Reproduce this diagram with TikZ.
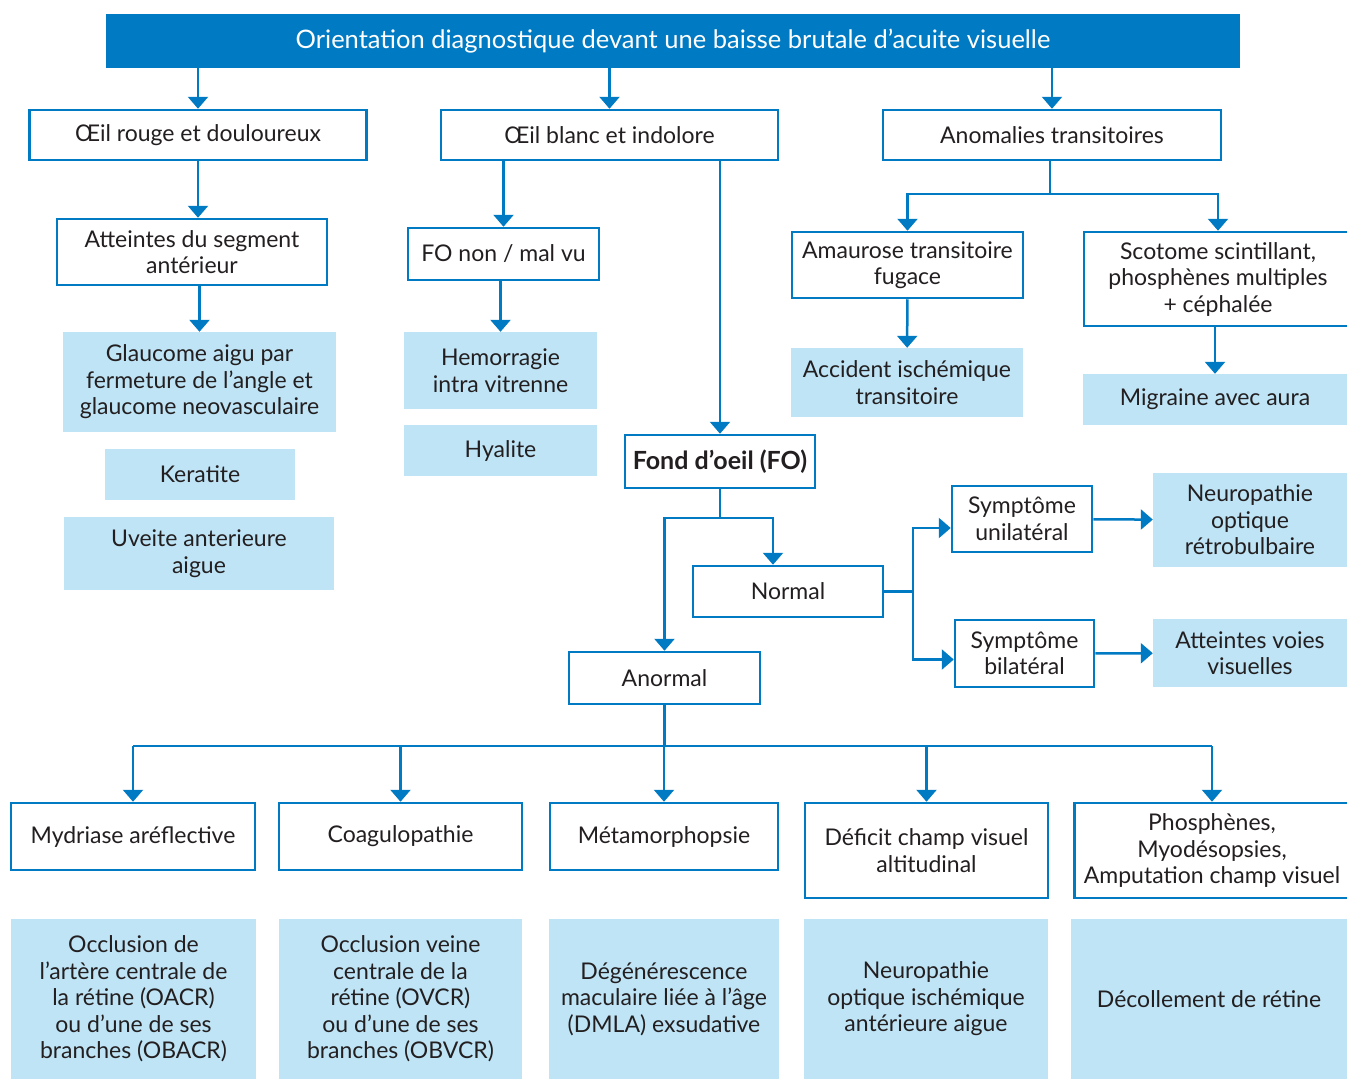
\documentclass[tikz,border=0pt]{standalone}
\usepackage{fontspec}
\setmainfont{Lato}
\usetikzlibrary{arrows.meta}
\definecolor{oblue}{RGB}{0,122,194}
\definecolor{lblue}{RGB}{190,228,246}
\definecolor{ink}{RGB}{35,31,32}

\begin{document}
\begin{tikzpicture}[x=1pt,y=-1pt,
  every node/.style={font=\fontsize{23}{26.5}\selectfont, text=ink, align=center, inner sep=0pt},
  wh/.style 2 args={minimum width=#1pt, minimum height=#2pt},
  outbox/.style={draw=oblue, line width=2.5pt, fill=white},
  fillbox/.style={fill=lblue},
  link/.style={draw=oblue, line width=2.5pt},
  arr/.style={link, -{Triangle[width=20pt,length=12pt]}}]
\useasboundingbox (0,0) rectangle (1347,1079);
% title bar
\node[fill=oblue, text=white, wh={1134}{54}, font=\fontsize{25.5}{28}\selectfont] (title) at (673,41)
  {Orientation diagnostique devant une baisse brutale d’acuite visuelle};
% first level
\node[outbox, wh={337}{50}] (rouge) at (198,135) {Œil rouge et douloureux};
\node[outbox, wh={337}{50}] (blanc) at (609.5,135) {Œil blanc et indolore};
\node[outbox, wh={338}{50}] (anom) at (1052,135) {Anomalies transitoires};
% red eye column
\node[outbox, wh={270}{66}] (segment) at (192,252) {Atteintes du segment\\antérieur};
\node[fillbox, wh={273}{100}] (glaucome) at (199.5,382) {Glaucome aigu par\\fermeture de l’angle et\\glaucome neovasculaire};
\node[fillbox, wh={190}{51}] (keratite) at (200,474.5) {Keratite};
\node[fillbox, wh={270}{73}] (uveite) at (199,553.5) {Uveite anterieure\\aigue};
% white eye column
\node[outbox, wh={191}{52}] (fonon) at (503.5,254) {FO non / mal vu};
\node[fillbox, wh={193}{77}] (hemo) at (500.5,370.5) {Hemorragie\\intra vitrenne};
\node[fillbox, wh={193}{51}] (hyalite) at (500.5,450.5) {Hyalite};
\node[outbox, wh={190}{53}, font=\fontsize{25}{27}\selectfont\bfseries] (fond) at (720,461.5) {Fond d’oeil (FO)};
\node[outbox, wh={190}{51}] (normal) at (788,591.5) {Normal};
\node[outbox, wh={191}{52}] (anormal) at (664.5,678) {Anormal};
\node[outbox, wh={140}{66}] (uni) at (1022,519) {Symptôme\\unilatéral};
\node[outbox, wh={139}{67}] (bil) at (1024.5,653.5) {Symptôme\\bilatéral};
\node[fillbox, wh={194}{94}] (neuro) at (1250,520) {Neuropathie\\optique\\rétrobulbaire};
\node[fillbox, wh={194}{68}] (voies) at (1250,653) {Atteintes voies\\visuelles};
% transient column
\node[outbox, wh={231}{66}] (amau) at (907.5,265) {Amaurose transitoire\\fugace};
\node[outbox, wh={268}{94}] (scot) at (1218,279) {Scotome scintillant,\\phosphènes multiples\\+ céphalée};
\node[fillbox, wh={232}{69}] (accid) at (907,382.5) {Accident ischémique\\transitoire};
\node[fillbox, wh={264}{51}] (migr) at (1215,399.5) {Migraine avec aura};
% abnormal fundus row
\node[outbox, wh={244}{67}] (myd) at (133,836.5) {Mydriase aréflective};
\node[outbox, wh={243}{67}] (coag) at (400.5,836.5) {Coagulopathie};
\node[outbox, wh={228}{67}] (meta) at (664,836.5) {Métamorphopsie};
\node[outbox, wh={243}{95}] (defi) at (926.5,850.5) {Déficit champ visuel\\altitudinal};
\node[outbox, wh={275}{95}] (phos) at (1212,850.5) {Phosphènes,\\Myodésopsies,\\Amputation champ visuel};
\node[fillbox, wh={245}{160}] (oacr) at (133.5,999) {Occlusion de\\l’artère centrale de\\la rétine (OACR)\\ou d’une de ses\\branches (OBACR)};
\node[fillbox, wh={243}{160}] (ovcr) at (400.5,999) {Occlusion veine\\centrale de la\\rétine (OVCR)\\ou d’une de ses\\branches (OBVCR)};
\node[fillbox, wh={230}{160}] (dmla) at (664,999) {Dégénérescence\\maculaire liée à l’âge\\(DMLA) exsudative};
\node[fillbox, wh={244}{160}] (noia) at (926,999) {Neuropathie\\optique ischémique\\antérieure aigue};
\node[fillbox, wh={276}{160}] (decol) at (1209,999) {Décollement de rétine};
% junctions
\coordinate (fsplit) at (720,518);
\coordinate (nsplit) at (913,591.5);
\coordinate (asplit) at (1050,194);
\coordinate (bsplit) at (664.5,746);
% connectors
\foreach \n in {rouge,blanc,anom}{\draw[arr] (title.south -| \n) -- (\n);}
\draw[arr] (rouge) -- (rouge |- segment.north);
\draw[arr] (segment.south -| glaucome) -- (glaucome);
\draw[arr] (blanc.south -| fonon) -- (fonon);
\draw[arr] (fonon.south -| hemo) -- (hemo);
\draw[arr] (blanc.south -| fond) -- (fond);
\draw[link] (fond) -- (fsplit);
\draw[arr] (fsplit) -| (anormal);
\draw[arr] (fsplit) -| ([xshift=-15pt]normal.north);
\draw[link] (normal) -- (nsplit);
\draw[arr] (nsplit) |- ([yshift=-9pt]uni.west);
\draw[arr] (nsplit) |- ([yshift=-6pt]bil.west);
\draw[arr] (uni) -- (neuro);
\draw[arr] (bil) -- (voies);
\draw[link] (anom.south -| asplit) -- (asplit);
\draw[arr] (asplit) -| (amau);
\draw[arr] (asplit) -| (scot);
\draw[arr] (amau) -- (accid);
\draw[arr] (scot.south -| migr) -- (migr);
\draw[link] (anormal) -- (bsplit);
\draw[link] (bsplit -| myd) -- (bsplit -| phos);
\foreach \n in {myd,coag,meta,defi,phos}{\draw[arr] (bsplit -| \n) -- (\n);}
\end{tikzpicture}
\end{document}
